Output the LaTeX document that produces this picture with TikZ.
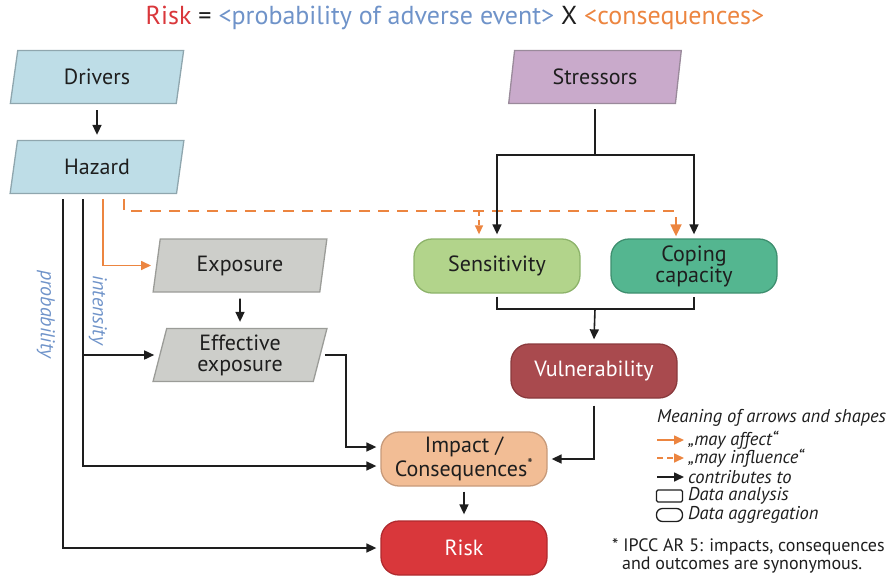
\documentclass[tikz,border=0pt]{standalone}
\usepackage{fontspec}
\setmainfont{PT Sans}
\usetikzlibrary{shapes.geometric,arrows.meta}
\definecolor{cblue}{HTML}{BEDDE7}
\definecolor{cbluebd}{HTML}{8FA6AE}
\definecolor{clilac}{HTML}{C9AACB}
\definecolor{clilacbd}{HTML}{9A8A9B}
\definecolor{cgray}{HTML}{CDCECA}
\definecolor{cgraybd}{HTML}{9B9C98}
\definecolor{csens}{HTML}{B2D48B}
\definecolor{csensbd}{HTML}{8DB36A}
\definecolor{ccop}{HTML}{54B690}
\definecolor{ccopbd}{HTML}{3E8F6F}
\definecolor{cvul}{HTML}{A94A4E}
\definecolor{cvulbd}{HTML}{8A3A3D}
\definecolor{cimp}{HTML}{F2BD95}
\definecolor{cimpbd}{HTML}{C79A7A}
\definecolor{crisk}{HTML}{D9373B}
\definecolor{criskbd}{HTML}{B02A2E}
\definecolor{corange}{HTML}{EC8540}
\definecolor{cbluetxt}{HTML}{6F93C9}
\definecolor{ctxt}{HTML}{1E1E1E}
\tikzset{
  para/.style={trapezium, trapezium left angle=79, trapezium right angle=101,
    trapezium stretches=true, minimum width=174, minimum height=53, inner sep=0pt,
    line width=1.3pt, text=ctxt, font=\fontsize{22}{22}\selectfont},
  roundbox/.style={rectangle, rounded corners=18, minimum width=166, minimum height=54,
    inner sep=0pt, line width=1.3pt, text=ctxt, align=center,
    font=\fontsize{22}{21}\selectfont},
  blk/.style={line width=1.6pt, draw=ctxt},
  arr/.style={blk, -{Triangle[length=10pt,width=9pt]}},
  org/.style={line width=1.6pt, draw=corange, -{Triangle[length=10pt,width=9pt]}, fill=none},
  orgd/.style={line width=1.8pt, draw=corange, dash pattern=on 11pt off 8pt, -{Triangle[length=12pt,width=11pt,fill=corange]}},
  orgds/.style={line width=1.4pt, draw=corange, dash pattern=on 5pt off 4pt, -{Triangle[length=9pt,width=8pt,fill=corange]}},
  side/.style={font=\fontsize{20}{20}\selectfont\itshape, text=cbluetxt, rotate=-90},
  legtxt/.style={anchor=west, font=\fontsize{18.5}{18}\selectfont\itshape, text=ctxt, inner sep=0pt},
  foot/.style={anchor=west, font=\fontsize{18}{18}\selectfont, text=ctxt, inner sep=0pt}
}
\begin{document}
\begin{tikzpicture}[x=1pt,y=-1pt]
\useasboundingbox (0,0) rectangle (889,579);
% title
\node[font=\fontsize{26}{26}\selectfont, inner sep=0pt] (title) at (455,18)
  {\textcolor{crisk}{Risk} \textcolor{ctxt}{=} \textcolor{cbluetxt}{<probability of adverse event>} \textcolor{ctxt}{X} \textcolor{corange}{<consequences>}};
% nodes
\node[para, fill=cblue, draw=cbluebd] (drivers) at (97,77) {Drivers};
\node[para, fill=cblue, draw=cbluebd] (hazard) at (97,167) {Hazard};
\node[para, fill=clilac, draw=clilacbd] (stress) at (595,77) {Stressors};
\node[para, fill=cgray, draw=cgraybd] (expo) at (240,265.5) {Exposure};
\node[para, fill=cgray, draw=cgraybd, align=center, font=\fontsize{22}{21}\selectfont] (eff) at (240,355) {Effective\\exposure};
\node[roundbox, fill=csens, draw=csensbd] (sens) at (497,266) {Sensitivity};
\node[roundbox, fill=ccop, draw=ccopbd] (coping) at (694,266) {Coping\\capacity};
\node[roundbox, fill=cvul, draw=cvulbd, text=white] (vuln) at (594,371) {Vulnerability};
\node[roundbox, fill=cimp, draw=cimpbd] (impact) at (464,459) {Impact /\\Consequences\textsuperscript{*}};
\node[roundbox, fill=crisk, draw=criskbd, text=white] (risk) at (464,548) {Risk};
% helper coordinates
\coordinate (px) at (63,0);
\coordinate (ix) at (83,0);
\coordinate (ox) at (103,0);
\coordinate (dx) at (124,0);
\coordinate (dy) at (0,211);
\coordinate (vj) at (595,309);
% connectors
\draw[arr] ([yshift=-6]drivers.south) -- ([yshift=5]hazard.north);
\draw[arr] ([yshift=-5]hazard.south -| px) |- ([xshift=-4]risk.west);
\draw[arr] ([yshift=-5]hazard.south -| ix) |- ([xshift=-4,yshift=-7]impact.west);
\draw[arr] (ix |- eff.west) -- ([xshift=-5]eff.west);
\draw[org] ([yshift=-5]hazard.south -| ox) |- ([xshift=-5]expo.west);
\draw[orgd] ([yshift=-5]hazard.south -| dx) -- (dx |- dy) -- ([xshift=-18]coping.north |- dy) -- ([xshift=-18,yshift=2]coping.north);
\draw[orgds] ([xshift=-18]sens.north |- dy) -- ([xshift=-18,yshift=4]sens.north);
\draw[arr] ([yshift=-6]expo.south) -- ([yshift=6]eff.north);
\draw[arr] ([xshift=4]eff.east) -- ++(21,0) |- ([xshift=-4,yshift=12]impact.west);
\draw[blk] ([yshift=-5]stress.south) -- ++(0,46) coordinate (sj);
\draw[arr] (sj) -| ([yshift=4]sens.north);
\draw[arr] (sj) -| ([yshift=4]coping.north);
\draw[blk] ([yshift=-3]sens.south) -- (sens.south |- vj) -- (coping.south |- vj) -- ([yshift=-3]coping.south);
\draw[arr] (vj) -- ([yshift=4]vuln.north);
\draw[arr] ([yshift=-7]vuln.south) |- ([xshift=4]impact.east);
\draw[arr] ([yshift=-5]impact.south) -- ([yshift=6]risk.north);
% side labels
\node[side] (lprob) at (46,314) {probability};
\node[side] (lint) at (98,310) {intensity};
% legend
\node[legtxt] (legtitle) at (657,418) {Meaning of arrows and shapes};
\coordinate (la1) at (657,440);
\coordinate (lb1) at (684,440);
\draw[org] (la1) -- (lb1);
\node[legtxt] (leg1) at (688,440) {„may affect“};
\coordinate (la2) at (657,458);
\coordinate (lb2) at (684,458);
\draw[orgds, line width=1.6pt, dash pattern=on 6pt off 4pt, -{Triangle[length=10pt,width=9pt,fill=corange]}] (la2) -- (lb2);
\node[legtxt] (leg2) at (688,458) {„may influence“};
\coordinate (la3) at (657,477);
\coordinate (lb3) at (684,477);
\draw[arr] (la3) -- (lb3);
\node[legtxt] (leg3) at (688,477) {contributes to};
\node[draw=ctxt, line width=1.3pt, minimum width=26, minimum height=12, inner sep=0pt, rounded corners=1.5] (legrect) at (669.5,496) {};
\node[legtxt] (leg4) at (688,496) {Data analysis};
\node[draw=ctxt, line width=1.3pt, minimum width=26, minimum height=13, inner sep=0pt, rounded corners=6] (legrnd) at (669.5,515) {};
\node[legtxt] (leg5) at (688,515) {Data aggregation};
% footnote
\node[foot] (foot1) at (612,547) {* IPCC AR 5: impacts, consequences};
\node[foot] (foot2) at (622,565) {and outcomes are synonymous.};
\end{tikzpicture}
\end{document}
